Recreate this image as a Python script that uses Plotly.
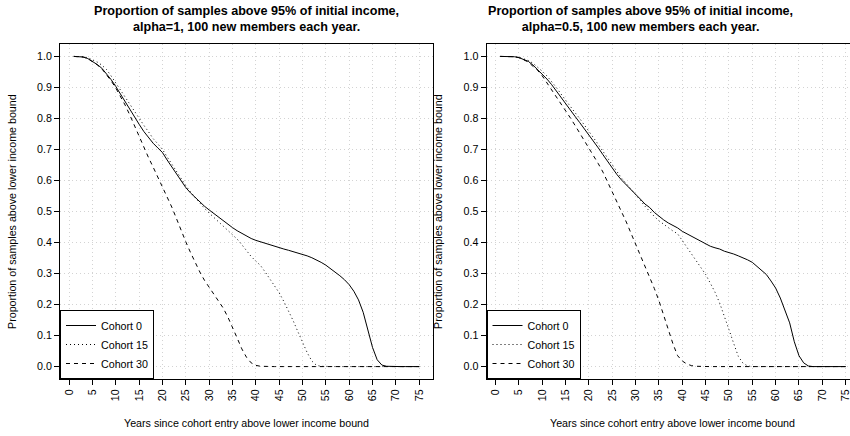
import plotly.graph_objects as go

years = list(range(1, 76))

left_c0 = [1.000, 1.000, 0.998, 0.993, 0.984, 0.974, 0.962, 0.945, 0.925, 0.903,
           0.878, 0.852, 0.828, 0.805, 0.781, 0.758, 0.738, 0.720, 0.705, 0.690,
           0.666, 0.643, 0.620, 0.598, 0.577, 0.560, 0.545, 0.530, 0.517, 0.505,
           0.493, 0.481, 0.470, 0.458, 0.448, 0.438, 0.429, 0.420, 0.413, 0.407,
           0.402, 0.397, 0.392, 0.387, 0.383, 0.379, 0.375, 0.371, 0.366, 0.361,
           0.357, 0.351, 0.344, 0.336, 0.327, 0.316, 0.305, 0.293, 0.280, 0.264,
           0.243, 0.215, 0.175, 0.120, 0.062, 0.022, 0.005, 0.001, 0.0, 0.0,
           0.0, 0.0, 0.0, 0.0, 0.0]

left_c15 = [1.000, 1.000, 0.999, 0.996, 0.990, 0.982, 0.972, 0.958, 0.937, 0.914,
            0.890, 0.866, 0.843, 0.821, 0.799, 0.778, 0.757, 0.735, 0.718, 0.700,
            0.676, 0.652, 0.628, 0.605, 0.583, 0.563, 0.545, 0.527, 0.510, 0.495,
            0.481, 0.467, 0.455, 0.441, 0.427, 0.411, 0.393, 0.374, 0.355, 0.340,
            0.326, 0.305, 0.284, 0.262, 0.238, 0.210, 0.180, 0.148, 0.113, 0.078,
            0.045, 0.018, 0.004, 0.001, 0.0, 0.0, 0.0, 0.0, 0.0, 0.0,
            0.0, 0.0, 0.0, 0.0, 0.0, 0.0, 0.0, 0.0, 0.0, 0.0,
            0.0, 0.0, 0.0, 0.0, 0.0]

left_c30 = [1.000, 1.000, 0.998, 0.993, 0.984, 0.973, 0.960, 0.942, 0.921, 0.898,
            0.872, 0.843, 0.811, 0.776, 0.740, 0.706, 0.674, 0.643, 0.612, 0.580,
            0.548, 0.514, 0.477, 0.437, 0.402, 0.368, 0.334, 0.305, 0.278, 0.256,
            0.236, 0.214, 0.189, 0.160, 0.128, 0.092, 0.057, 0.030, 0.012, 0.004,
            0.001, 0.0, 0.0, 0.0, 0.0, 0.0, 0.0, 0.0, 0.0, 0.0,
            0.0, 0.0, 0.0, 0.0, 0.0, 0.0, 0.0, 0.0, 0.0, 0.0,
            0.0, 0.0, 0.0, 0.0, 0.0, 0.0, 0.0, 0.0, 0.0, 0.0,
            0.0, 0.0, 0.0, 0.0, 0.0]

right_c0 = [1.000, 1.000, 1.000, 0.999, 0.996, 0.991, 0.984, 0.972, 0.958, 0.944,
            0.927, 0.909, 0.888, 0.866, 0.846, 0.826, 0.807, 0.787, 0.767, 0.748,
            0.726, 0.705, 0.683, 0.662, 0.637, 0.619, 0.601, 0.586, 0.572, 0.558,
            0.540, 0.524, 0.513, 0.497, 0.484, 0.473, 0.463, 0.456, 0.447, 0.436,
            0.428, 0.421, 0.414, 0.406, 0.397, 0.388, 0.383, 0.379, 0.372, 0.368,
            0.363, 0.357, 0.351, 0.344, 0.336, 0.324, 0.311, 0.297, 0.276, 0.253,
            0.221, 0.184, 0.141, 0.080, 0.035, 0.012, 0.002, 0.0, 0.0, 0.0,
            0.0, 0.0, 0.0, 0.0, 0.0]

right_c15 = [1.000, 1.000, 1.000, 0.999, 0.997, 0.993, 0.987, 0.978, 0.966, 0.952,
             0.937, 0.920, 0.900, 0.879, 0.858, 0.838, 0.819, 0.800, 0.780, 0.760,
             0.738, 0.716, 0.694, 0.672, 0.650, 0.628, 0.607, 0.590, 0.573, 0.555,
             0.536, 0.517, 0.500, 0.484, 0.470, 0.458, 0.449, 0.437, 0.428, 0.406,
             0.385, 0.361, 0.340, 0.318, 0.297, 0.269, 0.240, 0.205, 0.165, 0.119,
             0.075, 0.033, 0.011, 0.002, 0.0, 0.0, 0.0, 0.0, 0.0, 0.0,
             0.0, 0.0, 0.0, 0.0, 0.0, 0.0, 0.0, 0.0, 0.0, 0.0,
             0.0, 0.0, 0.0, 0.0, 0.0]

right_c30 = [1.000, 1.000, 1.000, 0.999, 0.996, 0.990, 0.982, 0.968, 0.955, 0.937,
             0.915, 0.893, 0.871, 0.849, 0.826, 0.802, 0.778, 0.754, 0.730, 0.705,
             0.680, 0.654, 0.627, 0.595, 0.565, 0.534, 0.502, 0.466, 0.430, 0.394,
             0.360, 0.327, 0.292, 0.252, 0.212, 0.165, 0.118, 0.073, 0.035, 0.018,
             0.008, 0.003, 0.001, 0.0, 0.0, 0.0, 0.0, 0.0, 0.0, 0.0,
             0.0, 0.0, 0.0, 0.0, 0.0, 0.0, 0.0, 0.0, 0.0, 0.0,
             0.0, 0.0, 0.0, 0.0, 0.0, 0.0, 0.0, 0.0, 0.0, 0.0,
             0.0, 0.0, 0.0, 0.0, 0.0]

series_names = ["Cohort 0", "Cohort 15", "Cohort 30"]
x_tick_vals = list(range(0, 76, 5))
x_tick_text = [str(v) for v in x_tick_vals]
y_tick_vals = [i / 10 for i in range(11)]
y_tick_text = ["%.1f" % v for v in y_tick_vals]

titles = ["<b>Proportion of samples above 95% of initial income,<br>alpha=1, 100 new members each year.</b>",
          "<b>Proportion of samples above 95% of initial income,<br>alpha=0.5, 100 new members each year.</b>"]
x_title = "Years since cohort entry above lower income bound"
y_title = "Proportion of samples above lower income bound"

FONT = "Liberation Sans, Arial, Helvetica, sans-serif"
FS = 10.7
dashes = ["solid", "1px,3px", "4px,4px"]

W, H = 850, 436
ML, MR, MT, MB = 60, 0, 44, 57
PW = W - ML - MR
PH = H - MT - MB

fig = go.Figure()

panels = [(left_c0, left_c15, left_c30), (right_c0, right_c15, right_c30)]
for p, data in enumerate(panels):
    xa = "x" if p == 0 else "x2"
    ya = "y" if p == 0 else "y2"
    lg = "legend" if p == 0 else "legend2"
    for name, vals, dash in zip(series_names, data, dashes):
        fig.add_trace(go.Scatter(
            x=years, y=vals, mode="lines", name=name,
            line=dict(color="black", width=1, dash=dash),
            xaxis=xa, yaxis=ya, legend=lg, showlegend=True,
            hoverinfo="skip"))

left_dom = [0, (433 - ML) / PW]
right_dom = [(486.5 - ML) / PW, 1]

axis_common = dict(
    showline=True, linecolor="black", linewidth=1,
    ticks="outside", ticklen=5, tickwidth=1, tickcolor="black",
    showgrid=True, gridcolor="#d3d3d3", griddash="1px,3px", gridwidth=1,
    zeroline=False, automargin=False, ticklabeloverflow="allow",
    tickfont=dict(family=FONT, size=FS, color="black"),
)

legend_common = dict(y=0, xanchor="left", yanchor="bottom",
                     bgcolor="white", bordercolor="black", borderwidth=1,
                     font=dict(family=FONT, size=FS, color="black"),
                     tracegroupgap=0, itemwidth=30)

fig.update_layout(
    width=W, height=H,
    margin=dict(l=ML, r=MR, t=MT, b=MB, autoexpand=False),
    paper_bgcolor="white", plot_bgcolor="white",
    font=dict(family=FONT, size=FS, color="black"),
    xaxis=dict(domain=left_dom, range=[-1.96, 77.96], tickmode="array",
               tickvals=x_tick_vals, ticktext=x_tick_text, tickangle=-90,
               mirror=True, anchor="y", **axis_common),
    yaxis=dict(domain=[0, 1], range=[-0.04, 1.04], tickmode="array",
               tickvals=y_tick_vals, ticktext=y_tick_text,
               mirror=True, anchor="x", **axis_common),
    xaxis2=dict(domain=right_dom, range=[-1.96, 75.93], tickmode="array",
                tickvals=x_tick_vals, ticktext=x_tick_text, tickangle=-90,
                mirror=True, anchor="y2", **axis_common),
    yaxis2=dict(domain=[0, 1], range=[-0.04, 1.04], tickmode="array",
                tickvals=y_tick_vals, ticktext=y_tick_text,
                mirror=False, anchor="x2", **axis_common),
    legend=dict(x=left_dom[0], **legend_common),
    legend2=dict(x=right_dom[0], **legend_common),
)

def px_x(px):
    return (px - ML) / PW

def px_y(py):
    return (H - MB - py) / PH

annotations = []
for cx, t in zip([246.5, 640], titles):
    annotations.append(dict(text=t, xref="paper", yref="paper", x=px_x(cx), y=px_y(19),
                            xanchor="center", yanchor="middle", showarrow=False,
                            font=dict(family=FONT, size=12.6, color="black")))
for cx in [246.5, 672.5]:
    annotations.append(dict(text=x_title, xref="paper", yref="paper", x=px_x(cx), y=px_y(423),
                            xanchor="center", yanchor="middle", showarrow=False,
                            font=dict(family=FONT, size=FS, color="black")))
for cx in [12, 438]:
    annotations.append(dict(text=y_title, xref="paper", yref="paper", x=px_x(cx), y=px_y(212),
                            xanchor="center", yanchor="middle", showarrow=False, textangle=-90,
                            font=dict(family=FONT, size=FS, color="black")))
fig.update_layout(annotations=annotations)

fig.write_html("out.html", config={"displayModeBar": False},
               post_script="document.body.style.margin='0';document.body.style.overflow='hidden';")
